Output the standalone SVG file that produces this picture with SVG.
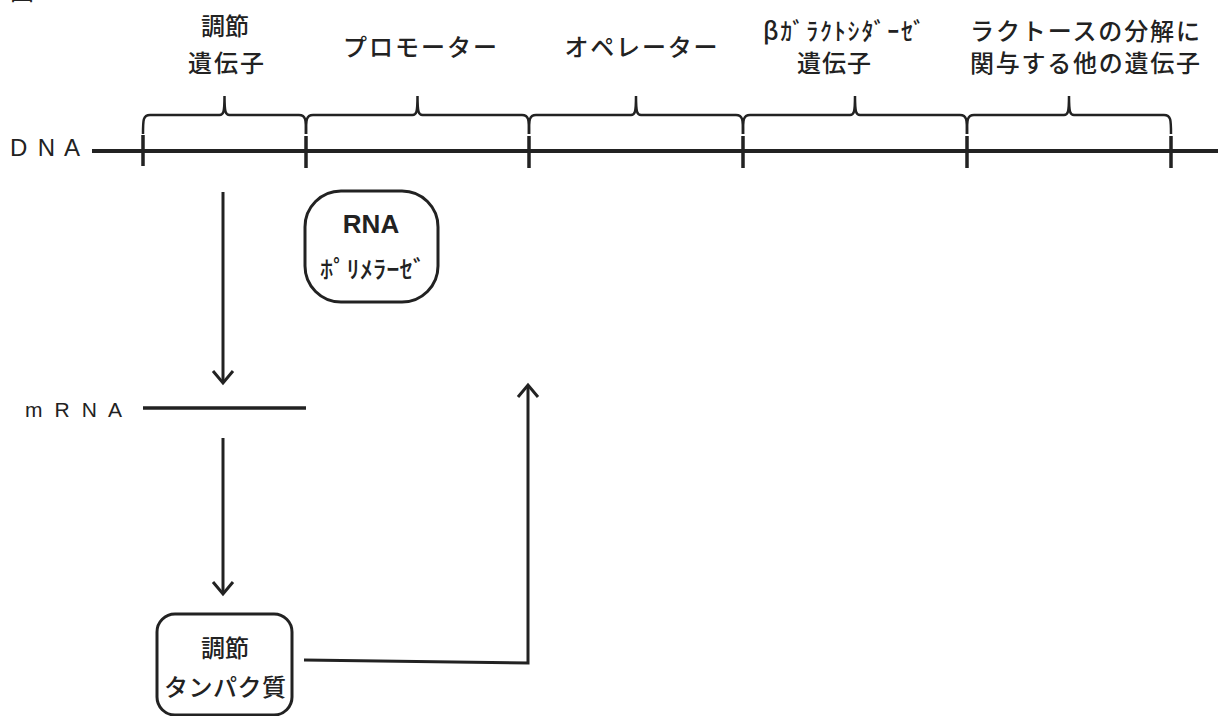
<svg xmlns="http://www.w3.org/2000/svg" width="1218" height="716" viewBox="0 0 1218 716">
<style>
.jp{font-family:"Noto Sans CJK JP","Noto Sans CJK SC",sans-serif;font-size:24px;font-weight:500;fill:#222;text-anchor:middle;dominant-baseline:central}
.lat{font-family:"Liberation Sans",Arial,sans-serif;fill:#222}
.ln{fill:none;stroke:#222;stroke-linecap:butt}
.brace{fill:none;stroke:#222;stroke-width:2.5}
.box{fill:#fff;stroke:#222;stroke-width:3}
</style>
<defs>
<marker id="arr" markerUnits="userSpaceOnUse" markerWidth="30" markerHeight="30" refX="15" refY="15" orient="auto" overflow="visible">
<path d="M3,5 L15,15 L3,25" fill="none" stroke="#222" stroke-width="3"/>
</marker>
</defs>
<rect width="1218" height="716" fill="#fff"/>
<text x="10" y="0" style="font-family:'Noto Sans CJK JP',sans-serif;font-size:24px;fill:#222">図<tspan dx="10">5</tspan></text>

<g id="dna">
<text class="lat" x="10" y="156" font-size="24" textLength="70" lengthAdjust="spacing">D N A</text>
<path class="ln" d="M92,151 L1218,151" stroke-width="4"/>
<path class="ln" stroke-width="3.5" d="M143,135 V166 M306,136 V168 M529,136 V168 M743,136 V168 M967,136 V168 M1171,136 V168"/>
</g>

<g id="regulatory-gene">
<path class="brace" d="M143,134 C143,120 143,115 150,115 L219.5,115 C223.5,115 224.5,112 224.5,96 C224.5,112 225.5,115 229.5,115 L299,115 C306,115 306,120 306,134"/>
<text class="jp" x="225" y="24">調節</text>
<text class="jp" x="226" y="61" textLength="76" lengthAdjust="spacing">遺伝子</text>
</g>

<g id="promoter">
<path class="brace" d="M306,134 C306,120 306,115 313,115 L412.5,115 C416.5,115 417.5,112 417.5,96 C417.5,112 418.5,115 422.5,115 L522,115 C529,115 529,120 529,134"/>
<text class="jp" x="420" y="45" textLength="154" lengthAdjust="spacing">プロモーター</text>
</g>

<g id="operator">
<path class="brace" d="M529,134 C529,120 529,115 536,115 L631,115 C635,115 636,112 636,96 C636,112 637,115 641,115 L736,115 C743,115 743,120 743,134"/>
<text class="jp" x="641" y="45" textLength="153" lengthAdjust="spacing">オペレーター</text>
</g>

<g id="beta-gal-gene">
<path class="brace" d="M743,134 C743,120 743,115 750,115 L850,115 C854,115 855,112 855,96 C855,112 856,115 860,115 L960,115 C967,115 967,120 967,134"/>
<text class="jp" x="844" y="29" textLength="162" lengthAdjust="spacing">βｶﾞﾗｸﾄｼﾀﾞｰｾﾞ</text>
<text class="jp" x="834" y="61" textLength="74" lengthAdjust="spacing">遺伝子</text>
</g>

<g id="other-genes">
<path class="brace" d="M967,134 C967,120 967,115 974,115 L1064,115 C1068,115 1069,112 1069,96 C1069,112 1070,115 1074,115 L1164,115 C1171,115 1171,120 1171,134"/>
<text class="jp" x="1085" y="29" textLength="230" lengthAdjust="spacing">ラクトースの分解に</text>
<text class="jp" x="1085" y="61" textLength="230" lengthAdjust="spacing">関与する他の遺伝子</text>
</g>

<g id="rna-polymerase">
<rect class="box" x="305" y="191" width="133" height="111" rx="36" ry="36"/>
<text class="lat" x="371" y="233" font-size="26" font-weight="bold" text-anchor="middle">RNA</text>
<text class="jp" x="373" y="267" textLength="106" lengthAdjust="spacingAndGlyphs">ﾎﾟﾘﾒﾗｰｾﾞ</text>
</g>

<g id="mrna">
<text class="lat" x="25" y="417" font-size="21" textLength="97" lengthAdjust="spacing">m R N A</text>
<path class="ln" d="M143,408 L306,408" stroke-width="3.5"/>
</g>

<g id="regulatory-protein">
<rect class="box" x="157" y="614" width="135" height="101" rx="18" ry="18"/>
<text class="jp" x="225" y="646">調節</text>
<text class="jp" x="225" y="685" textLength="122" lengthAdjust="spacing">タンパク質</text>
</g>

<g id="connectors">
<path class="ln" stroke-width="3" d="M223,192 L223,383" marker-end="url(#arr)"/>
<path class="ln" stroke-width="3" d="M223,438 L223,594" marker-end="url(#arr)"/>
<path class="ln" stroke-width="3" d="M304,660 L528,663 L528,385" marker-end="url(#arr)"/>
</g>
</svg>
